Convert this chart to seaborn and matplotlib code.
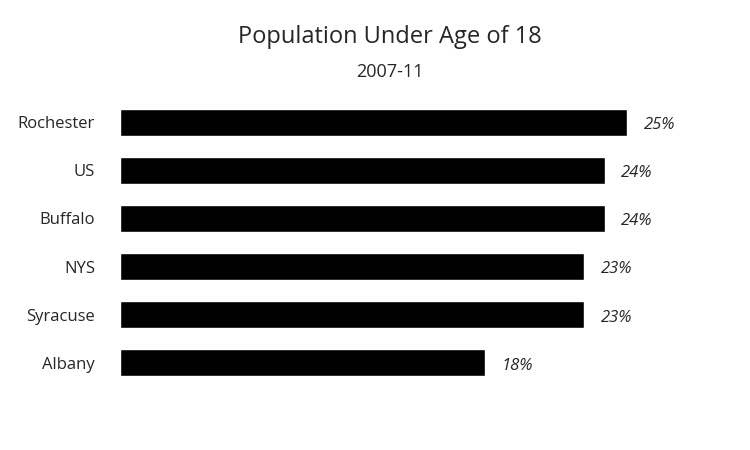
import matplotlib
matplotlib.use("Agg")
import matplotlib.pyplot as plt
import seaborn as sns
import pandas as pd

places = ['Rochester', 'US', 'Buffalo', 'NYS', 'Syracuse', 'Albany']
pct_under_18 = [25.0, 23.9, 23.9, 22.9, 22.9, 18.0]
value_labels = ['25%', '24%', '24%', '23%', '23%', '18%']

df = pd.DataFrame({'place': places, 'pct': pct_under_18})

sns.set_style("white")
plt.rcParams['font.family'] = ['Open Sans', 'DejaVu Sans']

fig = plt.figure(figsize=(7.5, 4.5), dpi=100)
ax = fig.add_axes([0.16, 0.14, 0.811, 0.642])
sns.barplot(data=df, x='pct', y='place', color='black', width=0.56,
            saturation=1, ax=ax)

ax.set_xlim(0, 30)
ax.set_xlabel('')
ax.set_ylabel('')
ax.set_xticks([])
ax.tick_params(axis='y', length=0, labelsize=12, pad=18)
sns.despine(ax=ax, left=True, bottom=True)

for i, (v, lab) in enumerate(zip(pct_under_18, value_labels)):
    ax.annotate(lab, (v, i), xytext=(12, -2), textcoords='offset points',
                ha='left', va='center', fontsize=12, fontstyle='italic')

fig.text(0.52, 0.918, 'Population Under Age of 18', ha='center', va='center', fontsize=17)
fig.text(0.52, 0.84, '2007-11', ha='center', va='center', fontsize=13)

fig.savefig('out.png', dpi=100)
